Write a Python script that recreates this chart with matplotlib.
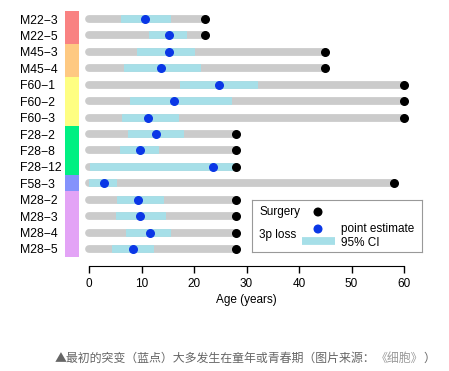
import matplotlib.pyplot as plt
from matplotlib.lines import Line2D

plt.rcParams['font.family'] = ['Liberation Sans', 'DejaVu Sans']

samples = ["M22−3", "M22−5", "M45−3", "M45−4", "F60−1", "F60−2", "F60−3",
           "F28−2", "F28−8", "F28−12", "F58−3", "M28−2", "M28−3", "M28−4", "M28−5"]
surgery_age = [22, 22, 45, 45, 60, 60, 60, 28, 28, 28, 58, 28, 28, 28, 28]
point_est = [10.7, 15.3, 15.2, 13.8, 24.8, 16.2, 11.2, 12.8, 9.7, 23.7, 2.9, 9.3, 9.7, 11.6, 8.3]
ci_low = [6.0, 11.5, 9.1, 6.7, 17.3, 7.8, 6.2, 7.4, 5.9, 0.1, 0.0, 5.3, 5.2, 7.0, 4.3]
ci_high = [15.6, 18.6, 20.1, 21.3, 32.2, 27.3, 17.2, 18.0, 13.3, 28.0, 5.3, 14.3, 14.7, 15.7, 12.4]

# patient groups: (first row, last row, colour)
groups = [(0, 1, "#f98282"), (2, 3, "#fec982"), (4, 6, "#fefe82"),
          (7, 9, "#00f082"), (10, 10, "#8492fc"), (11, 14, "#e3a3f6")]

caption = [("▲最初的突变（蓝点）大多发生在童年或青春期（图片来源：", "#666666"),
           ("《细胞》", "#9a9a9a"), ("）", "#666666")]

fig = plt.figure(figsize=(4.49, 3.71), dpi=100)
ax = fig.add_axes([89 / 449, 1 - 257.2 / 371, 315 / 449, 246.4 / 371])

rows = list(range(len(samples)))
lw_bar = 5.6
for i in rows:
    ax.plot([0, surgery_age[i]], [i, i], color="#cbcbcb", lw=lw_bar,
            solid_capstyle="round", zorder=1, clip_on=False)
    ax.plot([ci_low[i], ci_high[i]], [i, i], color="#a6dfe8", lw=lw_bar,
            solid_capstyle="butt", zorder=2, clip_on=False)
ax.scatter(point_est, rows, s=30, color="#0a37e6", zorder=4, clip_on=False)
ax.scatter(surgery_age, rows, s=30, color="black", zorder=4, clip_on=False)

for start, end, col in groups:
    ax.bar(-3.25, end - start + 1, width=2.65, bottom=start - 0.5, color=col,
           edgecolor="none", zorder=1, clip_on=False)

ax.set_xlim(0, 60)
ax.set_ylim(len(samples) - 0.5, -0.5)
ax.set_yticks(rows)
ax.set_yticklabels(samples, fontsize=8.8, ha="left")
ax.tick_params(axis="y", length=0, pad=49.7)
ax.set_xticks(range(0, 61, 10))
ax.tick_params(axis="x", direction="out", length=5, width=1, labelsize=8.5, pad=4)
for s in ["top", "right", "left"]:
    ax.spines[s].set_visible(False)
ax.spines["bottom"].set_position(("outward", 6))
ax.spines["bottom"].set_bounds(0, 60)
ax.set_xlabel("Age (years)", fontsize=8.5, labelpad=3)

# legend box
box = fig.add_axes([252 / 449, 1 - 252 / 371, 170 / 449, 52 / 371])
box.set_xticks([])
box.set_yticks([])
for s in box.spines.values():
    s.set_color("#999999")
box.set_xlim(0, 170)
box.set_ylim(52, 0)
box.text(7, 12, "Surgery", fontsize=8.5, va="center")
box.text(7, 35, "3p loss", fontsize=8.5, va="center")
box.scatter([66, 66], [12, 29], s=30, color=["black", "#0a37e6"])
box.plot([50, 83], [41, 41], color="#a6dfe8", lw=5.6, solid_capstyle="butt")
box.text(89, 29, "point estimate", fontsize=8.5, va="center")
box.text(89, 43, "95% CI", fontsize=8.5, va="center")

# caption, pieces placed one after another
renderer = fig.canvas.get_renderer()
x = 55
for txt, col in caption:
    t = fig.text(x / 449, 1 - 358 / 371, txt, fontsize=8.6, color=col, va="center",
                 family=["Noto Sans CJK SC", "DejaVu Sans"])
    x = t.get_window_extent(renderer).x1

fig.savefig("out.png", dpi=100)
